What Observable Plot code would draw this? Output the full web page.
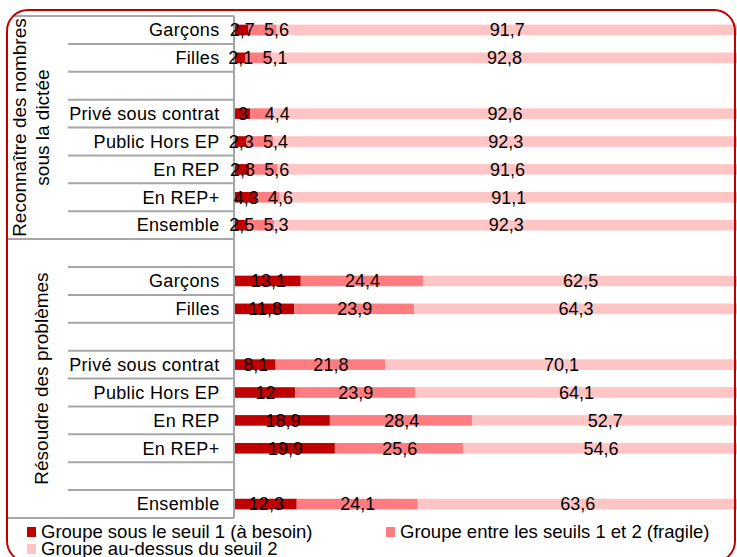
<!DOCTYPE html>
<html><head><meta charset="utf-8">
<script src="https://cdn.jsdelivr.net/npm/d3@7"></script>
<script src="https://cdn.jsdelivr.net/npm/@observablehq/plot@0.6"></script>
<style>
body{margin:0;width:737px;height:557px;overflow:hidden;background:#fff;font-family:"Liberation Sans",Arial,sans-serif;position:relative}
#frame{position:absolute;left:6px;top:9px;width:726px;height:550px;border:2px solid #c00000;border-radius:22px;z-index:2;pointer-events:none}
#chart{position:absolute;left:0;top:0;z-index:1}
.leg{position:absolute;display:flex;align-items:center;font-size:18.5px;height:20px;white-space:nowrap;color:#000;z-index:1}
.leg i{display:inline-block;width:9px;height:10px;margin-right:5px}
</style></head><body>
<div id="frame"></div><div id="chart"></div><div id="legend"></div>
<script>
// ---- data ----
const levels = ["Groupe sous le seuil 1 (à besoin)", "Groupe entre les seuils 1 et 2 (fragile)", "Groupe au-dessus du seuil 2"];
const levelColors = ["#c00000", "#ff7c80", "#ffc4c4"];
const groupLabelLines = [["Reconnaître des nombres", "sous la dictée"], ["Résoudre des problèmes"]];

const dicteeCategories = ["Garçons", "Filles", "", "Privé sous contrat", "Public Hors EP", "En REP", "En REP+", "Ensemble"];
const dicteeBesoin   = [2.7, 2.1, null, 3, 2.3, 2.8, 4.3, 2.5];
const dicteeFragile  = [5.6, 5.1, null, 4.4, 5.4, 5.6, 4.6, 5.3];
const dicteeAuDessus = [91.7, 92.8, null, 92.6, 92.3, 91.6, 91.1, 92.3];

const problemesCategories = ["", "Garçons", "Filles", "", "Privé sous contrat", "Public Hors EP", "En REP", "En REP+", "", "Ensemble"];
const problemesBesoin   = [null, 13.1, 11.8, null, 8.1, 12, 18.9, 19.9, null, 12.3];
const problemesFragile  = [null, 24.4, 23.9, null, 21.8, 23.9, 28.4, 25.6, null, 24.1];
const problemesAuDessus = [null, 62.5, 64.3, null, 70.1, 64.1, 52.7, 54.6, null, 63.6];

// ---- build tables ----
const groupsData = [
  {cats: dicteeCategories, series: [dicteeBesoin, dicteeFragile, dicteeAuDessus]},
  {cats: problemesCategories, series: [problemesBesoin, problemesFragile, problemesAuDessus]}
];
const rows = [], segments = [], labels = [];
groupsData.forEach((g, gi) => {
  g.cats.forEach((c, i) => {
    const key = gi + "|" + i;
    rows.push({key, group: gi, label: c, last: i === g.cats.length - 1});
    if (g.series[0][i] == null) return;
    let start = 0, prevMid = null;
    g.series.forEach((s, li) => {
      const v = s[i];
      segments.push({key, level: levels[li], value: v});
      let mid = start + v / 2;
      if (li === 1) mid = Math.max(mid, prevMid + 6.8); // avoid overlap of small labels
      labels.push({key, x: mid, text: String(v).replace(".", ",")});
      prevMid = mid; start += v;
    });
  });
});
const labelOf = new Map(rows.map(r => [r.key, r.label]));
const font = '"Liberation Sans", Arial, sans-serif';

const plot = Plot.plot({
  width: 737, height: 520,
  marginLeft: 235, marginRight: 0, marginTop: 16, marginBottom: 2,
  x: {domain: [0, 100], axis: null},
  y: {domain: rows.map(r => r.key), paddingInner: 0.62, paddingOuter: 0.31, round: false,
      tickSize: 0, tickPadding: 16, tickFormat: k => labelOf.get(k), label: null},
  color: {domain: levels, range: levelColors},
  style: {fontFamily: font, fontSize: "18px", color: "#000", background: "transparent", overflow: "visible"},
  marks: [
    Plot.barX(segments, {x: "value", y: "key", fill: "level"}),
    Plot.text(labels, {x: "x", y: "key", text: "text", fill: "#000", fontSize: 18})
  ]
});
document.getElementById("chart").appendChild(plot);

// slightly wider category labels, as in the original
d3.select(plot).selectAll('g[aria-label="y-axis tick label"] text, g[aria-label="y-axis"] text')
  .style("letter-spacing", "0.35px");

// ---- table grid drawn from the y scale ----
const ys = plot.scale("y");
const pad = (ys.step - ys.bandwidth) / 2;
const svg = d3.select(plot);
const grid = svg.insert("g", ":first-child").attr("stroke", "#a6a6a6").attr("stroke-width", 2);
const top0 = ys.apply(rows[0].key) - pad;
const bottom = ys.apply(rows[rows.length - 1].key) + ys.bandwidth + pad;
grid.append("line").attr("x1", 14).attr("x2", 234).attr("y1", top0).attr("y2", top0);
rows.forEach(r => {
  const yb = ys.apply(r.key) + ys.bandwidth + pad;
  grid.append("line").attr("x1", r.last ? 7 : 68).attr("x2", 234).attr("y1", yb).attr("y2", yb);
});
grid.append("line").attr("x1", 234).attr("x2", 234).attr("y1", top0).attr("y2", bottom);

// group labels
const gl = svg.append("g").attr("font-family", font).attr("font-size", 19).attr("fill", "#000");
[0, 1].forEach(gi => {
  const gr = rows.filter(r => r.group === gi);
  const y0 = ys.apply(gr[0].key) - pad, y1 = ys.apply(gr[gr.length - 1].key) + ys.bandwidth + pad;
  const cy = (y0 + y1) / 2;
  const lines = groupLabelLines[gi];
  const xs = lines.length === 2 ? [19, 42] : [41];
  lines.forEach((t, j) => {
    gl.append("text").attr("transform", `translate(${xs[j]},${cy}) rotate(-90)`)
      .attr("text-anchor", "middle").attr("dy", "0.35em").text(t);
  });
});

// ---- legend ----
const legPos = [[27, 522], [386, 522], [27, 539]];
const leg = document.getElementById("legend");
levels.forEach((l, i) => {
  const d = document.createElement("div");
  d.className = "leg";
  d.style.left = legPos[i][0] + "px"; d.style.top = legPos[i][1] + "px";
  d.innerHTML = `<i style="background:${levelColors[i]}"></i><span></span>`;
  d.querySelector("span").textContent = l;
  leg.appendChild(d);
});
</script>
</body></html>
